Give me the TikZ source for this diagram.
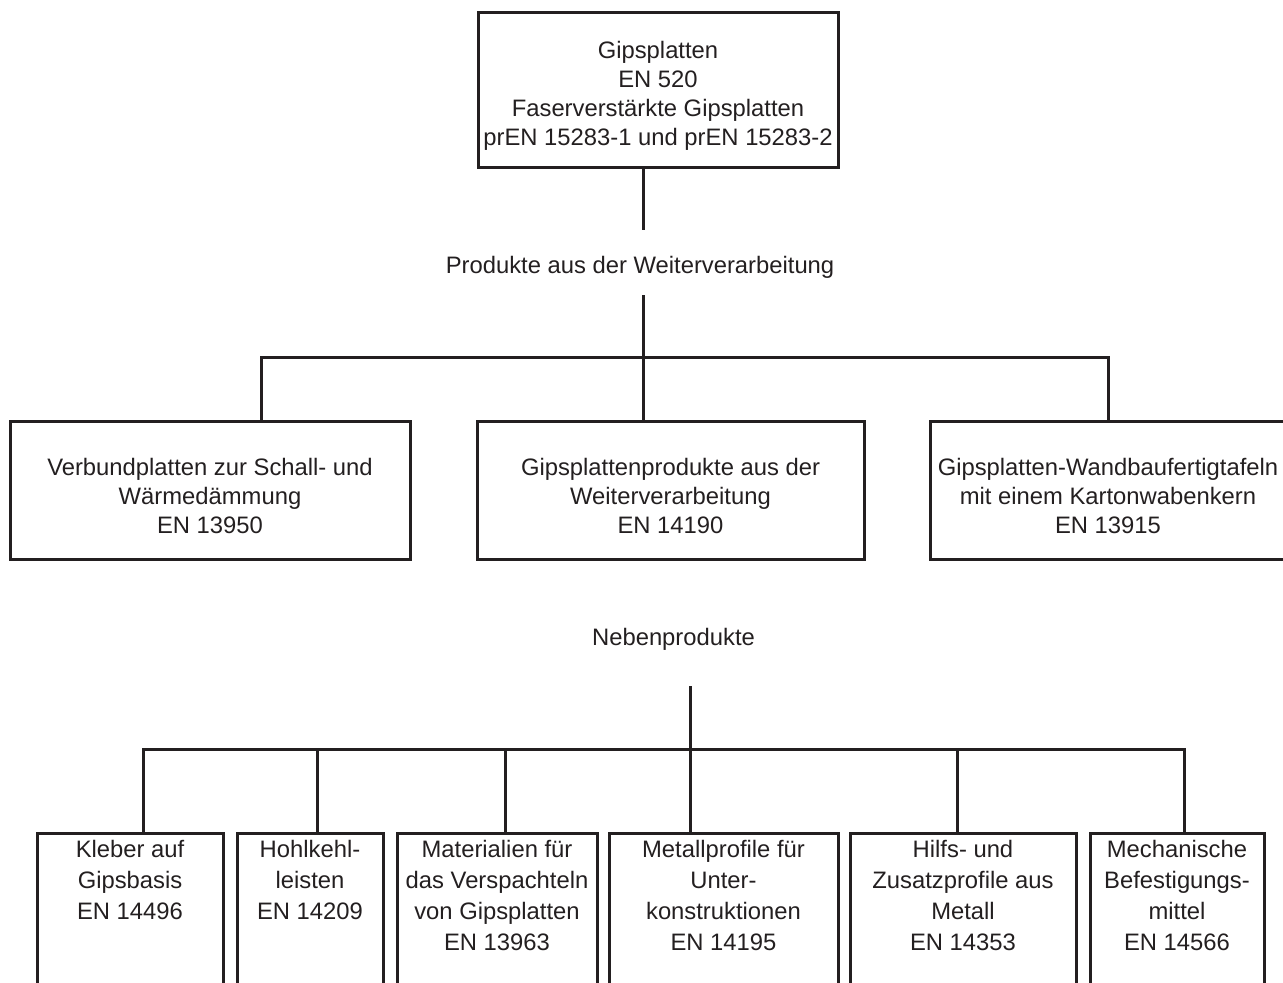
\documentclass[tikz,border=0pt]{standalone}
\usepackage{fontspec}
\setmainfont{Liberation Sans}
\definecolor{ink}{RGB}{35,31,32}
\newcommand{\oben}{\rule{0pt}{29pt}}

\begin{document}
\begin{tikzpicture}[x=1pt,y=-1pt]
            \tikzstyle{line} = [draw=ink, line width=3pt, line join=miter]
            \tikzstyle{box} = [line, text=ink, align=center, inner sep=0pt, font=\fontsize{23.8}{29}\selectfont]
            \tikzstyle{titel} = [text=ink, inner sep=0pt, anchor=base, font=\fontsize{23.8}{29}\selectfont]
            \tikzstyle{kbox} = [line, text=ink, anchor=north, inner xsep=0pt, inner ysep=7pt, font=\fontsize{23.8}{31}\selectfont]
            \useasboundingbox (0,0) rectangle (1283,983);
            \clip (0,0) rectangle (1283,983);
            \node[box, minimum width=360, minimum height=155] (gips) at (658,89.5) {\oben Gipsplatten\\EN 520\\Faserverstärkte Gipsplatten\\prEN 15283-1 und prEN 15283-2};
            \node[titel] (weiter) at (640,273) {Produkte aus der Weiterverarbeitung};
            \node[box, minimum width=400, minimum height=138] (verbund) at (210,490) {\oben Verbundplatten zur Schall- und\\Wärmedämmung\\EN 13950};
            \node[box, minimum width=387, minimum height=138] (produkte) at (670.5,490) {\oben Gipsplattenprodukte aus der\\Weiterverarbeitung\\EN 14190};
            \node[box, minimum width=356, minimum height=138] (wand) at (1108,490) {\oben Gipsplatten-Wandbaufertigtafeln\\mit einem Kartonwabenkern\\EN 13915};
            \node[titel] (neben) at (673.5,645) {Nebenprodukte};
            \node[kbox] (kleber) at (130,832) {\parbox[t][200pt][t]{186pt}{\centering Kleber auf\\Gipsbasis\\EN 14496}};
            \node[kbox] (hohl) at (310,832) {\parbox[t][200pt][t]{146pt}{\centering Hohlkehl-\\leisten\\EN 14209}};
            \node[kbox] (spachtel) at (497,832) {\parbox[t][200pt][t]{200pt}{\centering Materialien für\\das Verspachteln\\von Gipsplatten\\EN 13963}};
            \node[kbox] (metall) at (723.5,832) {\parbox[t][200pt][t]{229pt}{\centering Metallprofile für\\Unter-\\konstruktionen\\EN 14195}};
            \node[kbox] (zusatz) at (963,832) {\parbox[t][200pt][t]{226pt}{\centering Hilfs- und\\Zusatzprofile aus\\Metall\\EN 14353}};
            \node[kbox] (mech) at (1177,832) {\parbox[t][200pt][t]{174pt}{\centering Mechanische\\Befestigungs-\\mittel\\EN 14566}};
            \coordinate (p1) at (643,230);
            \coordinate (p2) at (643,295);
            \coordinate (zl) at (261,357);
            \coordinate (zr) at (1108,357);
            \draw[line] (gips.south -| p1) -- (p1);
            \draw[line] (p2) -- (produkte.north -| p2);
            \draw[line] (verbund.north -| zl) -- (zl) -- (zr) -- (wand.north -| zr);
            \coordinate (n1) at (690,686);
            \coordinate (q1) at (143,749);
            \coordinate (q2) at (317,749);
            \coordinate (q3) at (505,749);
            \coordinate (q5) at (957,749);
            \coordinate (q6) at (1184,749);
            \draw[line] (n1) -- (metall.north -| n1);
            \draw[line] (kleber.north -| q1) -- (q1) -- (q6) -- (mech.north -| q6);
            \foreach \q/\k in {q2/hohl, q3/spachtel, q5/zusatz}
                \draw[line] (\q) -- (\k.north -| \q);
        \end{tikzpicture}
\end{document}
